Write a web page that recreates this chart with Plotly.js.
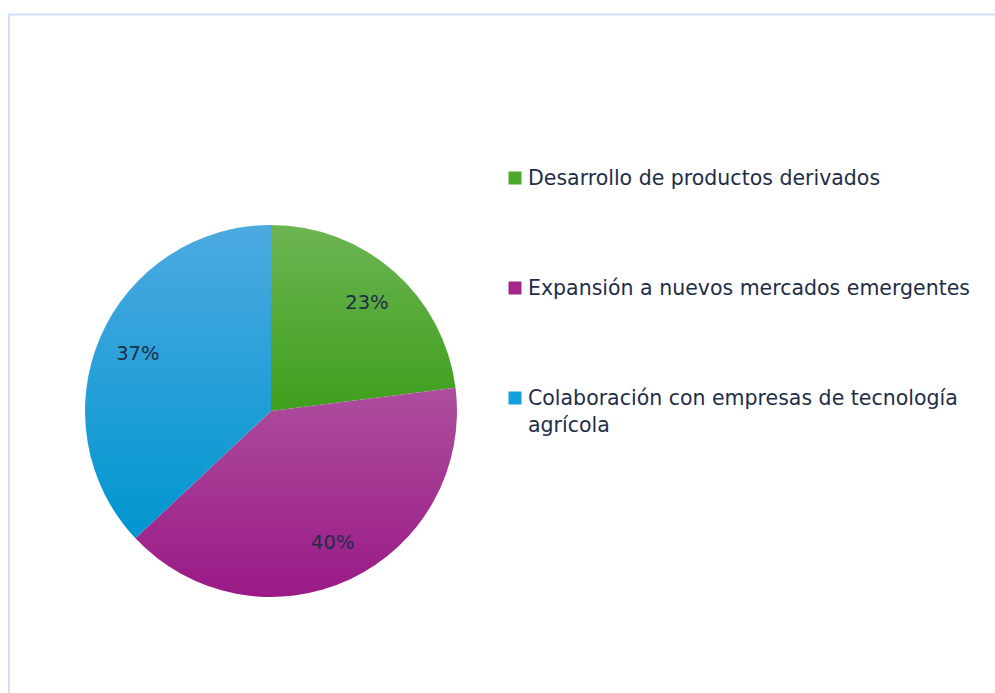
<!DOCTYPE html>
<html>
<head>
<meta charset="utf-8">
<script src="https://cdn.plot.ly/plotly-3.0.1.min.js"></script>
<style>html,body{margin:0;padding:0;background:#fff;} #chart{width:995px;height:693px;}</style>
</head>
<body>
<div id="chart"></div>
<script>
const categories = ["Desarrollo de productos derivados", "Expansión a nuevos mercados emergentes", "Colaboración con empresas de tecnología<br>agrícola"];
const values = [23, 40, 37];
const colors = ["#4aa82a", "#a3268f", "#10a0db"];
const gradTop = ["#6cb553", "#ad4e9c", "#4caae0"];
const gradBottom = ["#3f9e1c", "#9a1986", "#0095cf"];

const W = 995, H = 693;
const textColor = "#1e2e48";
const FONT = "DejaVu Sans, sans-serif";
const LEG_SIZE = 20.5;
const legendY = [178, 288, 398];

const annotations = [];
categories.forEach((c, i) => {
  annotations.push({
    xref: "paper", yref: "paper", x: 515 / W, y: 1 - legendY[i] / H,
    xanchor: "center", yanchor: "middle", text: " ", showarrow: false,
    bgcolor: colors[i], width: 12, height: 12, borderpad: 0, font: {size: 6}
  });
  annotations.push({
    xref: "paper", yref: "paper", x: 526 / W, y: 1 - (legendY[i] - 0.7 * LEG_SIZE) / H,
    xanchor: "left", yanchor: "top", align: "left", text: c, showarrow: false,
    font: {family: FONT, size: LEG_SIZE, color: textColor}
  });
});

const domain = {x: [85 / W, 457 / W], y: [1 - 597 / H, 1 - 225 / H]};

const pieTrace = {
  type: "pie",
  labels: categories,
  values: values,
  sort: false,
  direction: "clockwise",
  rotation: 0,
  marker: {colors: colors, line: {width: 0}},
  textinfo: "none",
  hoverinfo: "none",
  showlegend: false,
  domain: domain
};

const labelTrace = {
  type: "pie",
  labels: categories,
  values: values,
  sort: false,
  direction: "clockwise",
  rotation: 0,
  hole: 0.56,
  marker: {colors: ["rgba(0,0,0,0)", "rgba(0,0,0,0)", "rgba(0,0,0,0)"], line: {width: 0}},
  textinfo: "percent",
  texttemplate: "%{percent:.0%}",
  textposition: "inside",
  insidetextorientation: "horizontal",
  textfont: {family: FONT, size: 19.5, color: textColor},
  hoverinfo: "none",
  showlegend: false,
  domain: domain
};

const layout = {
  width: W, height: H,
  margin: {l: 0, r: 0, t: 0, b: 0},
  paper_bgcolor: "#ffffff",
  showlegend: false,
  annotations: annotations,
  shapes: [
    {type: "line", xref: "paper", yref: "paper", x0: 8 / W, x1: 1, y0: 1 - 14.5 / H, y1: 1 - 14.5 / H, line: {color: "#cfe0f6", width: 2}},
    {type: "line", xref: "paper", yref: "paper", x0: 9 / W, x1: 9 / W, y0: 0, y1: 1 - 14 / H, line: {color: "#cfe0f6", width: 2}}
  ]
};

Plotly.newPlot("chart", [pieTrace, labelTrace], layout, {displayModeBar: false, staticPlot: true}).then(gd => {
  const svg = gd.querySelector("svg.main-svg");
  const ns = "http://www.w3.org/2000/svg";
  let defs = svg.querySelector("defs");
  if (!defs) { defs = document.createElementNS(ns, "defs"); svg.insertBefore(defs, svg.firstChild); }
  gradTop.forEach((t, i) => {
    const g = document.createElementNS(ns, "linearGradient");
    g.setAttribute("id", "sliceGrad" + i);
    g.setAttribute("x1", "0"); g.setAttribute("y1", "0"); g.setAttribute("x2", "0"); g.setAttribute("y2", "1");
    const s1 = document.createElementNS(ns, "stop"); s1.setAttribute("offset", "0"); s1.setAttribute("stop-color", t);
    const s2 = document.createElementNS(ns, "stop"); s2.setAttribute("offset", "1"); s2.setAttribute("stop-color", gradBottom[i]);
    g.appendChild(s1); g.appendChild(s2); defs.appendChild(g);
  });
  const firstTrace = gd.querySelector("g.trace");
  firstTrace.querySelectorAll("g.slice").forEach((s, i) => {
    const p = s.querySelector("path.surface");
    if (p) p.style.fill = "url(#sliceGrad" + i + ")";
  });
});
</script>
</body>
</html>
